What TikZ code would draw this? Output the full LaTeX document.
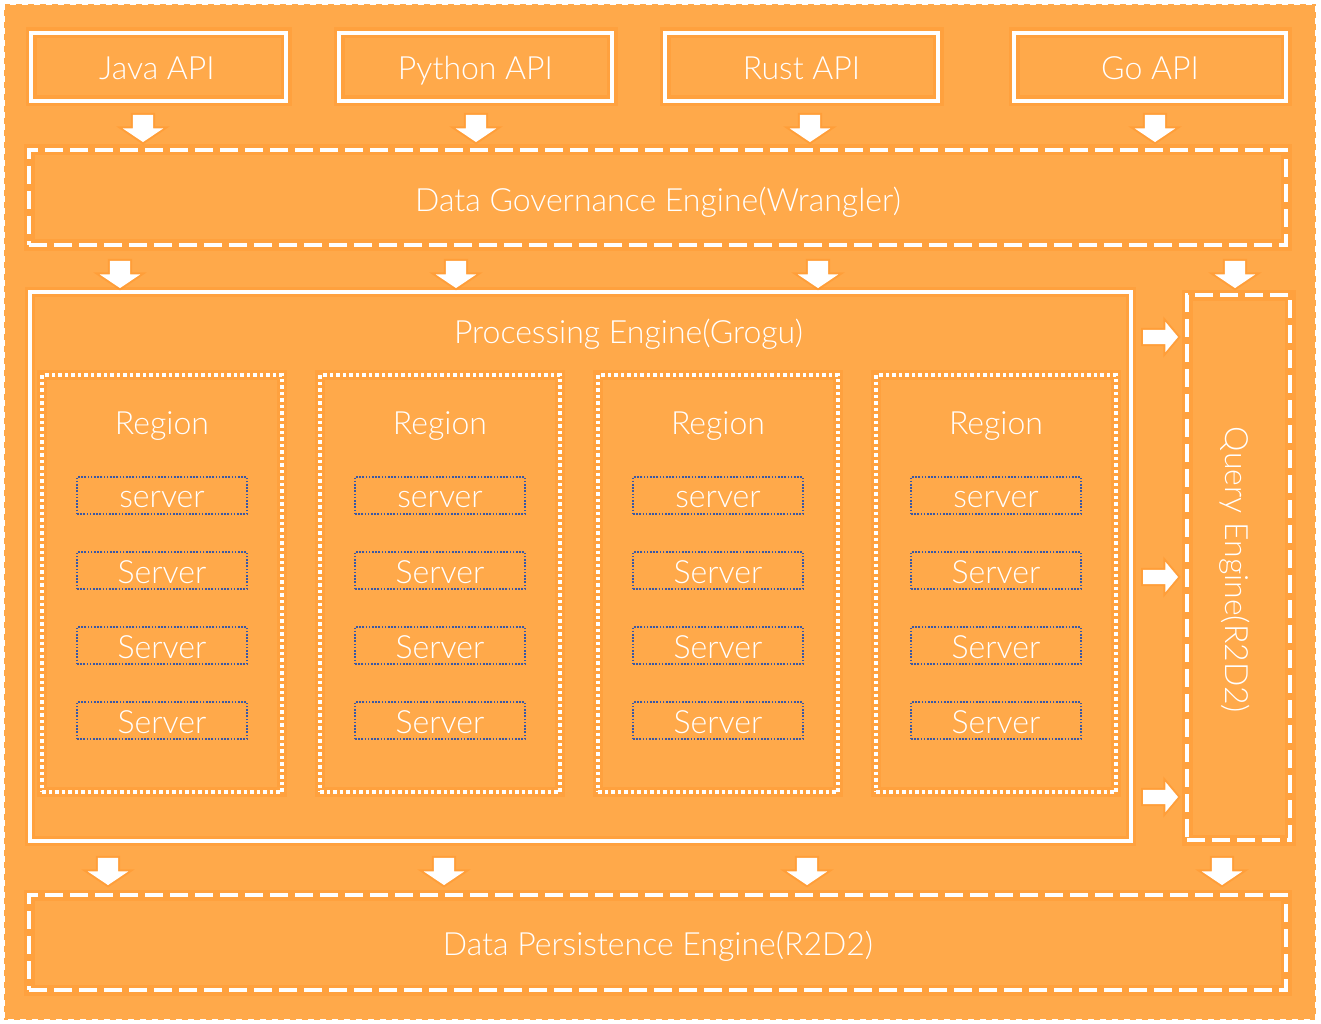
\documentclass[tikz,border=0pt]{standalone}
\usepackage{fontspec}
\setmainfont{Lato}[UprightFont=* Light]
\usetikzlibrary{shapes.arrows}
\definecolor{bgor}{RGB}{255,169,74}
\definecolor{glowc}{RGB}{255,135,20}
\definecolor{srvblue}{RGB}{58,88,165}
\tikzset{
  glow/.style={preaction={draw=glowc, line width=#1, opacity=0.22, solid}},
  lbl/.style={text=white, font=\fontsize{32}{36}\selectfont, inner sep=0pt, text height=23pt, text depth=0pt},
  apibox/.style={draw=white, line width=4.5pt, glow=11pt, minimum height=68pt},
  dashbox/.style={draw=white, line width=4.5pt, dash pattern=on 18pt off 7pt, glow=11pt},
  procbox/.style={draw=white, line width=4pt, glow=10pt},
  regionbox/.style={draw=white, line width=4pt, dash pattern=on 3.5pt off 3pt, glow=10pt, minimum width=240pt, minimum height=417pt},
  srvbox/.style={draw=srvblue, line width=1.4pt, dash pattern=on 1.6pt off 1.6pt, minimum width=170pt, minimum height=37pt, inner sep=0pt},
  darrow/.style={single arrow, fill=white, draw=none, shape border rotate=270, minimum height=27pt, inner sep=10pt, single arrow head extend=10pt, single arrow tip angle=112, preaction={draw=glowc, line width=4pt, opacity=0.3}},
  rarrow/.style={single arrow, fill=white, draw=none, minimum height=35pt, inner sep=7pt, single arrow head extend=8pt, single arrow tip angle=100, preaction={draw=glowc, line width=4pt, opacity=0.3}},
}
\begin{document}
\begin{tikzpicture}[x=1pt,y=-1pt]
\useasboundingbox (0,0) rectangle (1321,1024);
\fill[white] (0,0) rectangle (1321,1024);
\draw[fill=bgor, draw=white, line width=2pt, dash pattern=on 6pt off 6pt] (4,4) rectangle (1316,1020);

% API boxes
\node[apibox, minimum width=255pt] (java) at (158.5,67) {};
\node[apibox, minimum width=273pt] (python) at (475.5,67) {};
\node[apibox, minimum width=273pt] (rust) at (801.5,67) {};
\node[apibox, minimum width=272pt] (go) at (1150,67) {};
\node[lbl] (javat) at (157,68.5) {Java API};
\node[lbl] (pythont) at (475.5,68.5) {Python API};
\node[lbl] (rustt) at (801.5,68.5) {Rust API};
\node[lbl] (got) at (1150,68.5) {Go API};

% Governance
\node[dashbox, minimum width=1257pt, minimum height=95pt] (gov) at (657.5,197.5) {};
\node[lbl] (govt) at (658,200) {Data Governance Engine(Wrangler)};

% Processing
\node[procbox, minimum width=1101pt, minimum height=549pt] (proc) at (580.5,566.5) {};
\node[lbl] (proctitle) at (628.5,332) {Processing Engine(Grogu)};

% Regions and servers
\foreach \i/\x in {1/162,2/440,3/718,4/996}{
  \node[regionbox] (reg\i) at (\x,583.5) {};
  \node[lbl] (regl\i) at (\x,423) {Region};
  \node[srvbox] (s\i a) at (\x,495.5) {};
  \node[srvbox] (s\i b) at (\x,570.5) {};
  \node[srvbox] (s\i c) at (\x,645.5) {};
  \node[srvbox] (s\i d) at (\x,720.5) {};
  \node[lbl] (t\i a) at (\x,496) {server};
  \node[lbl] (t\i b) at (\x,572) {Server};
  \node[lbl] (t\i c) at (\x,647) {Server};
  \node[lbl] (t\i d) at (\x,722) {Server};
}

% Query engine
\node[dashbox, minimum width=103pt, minimum height=545pt] (query) at (1238.5,567.5) {};
\node[lbl, rotate=-90] (querytxt) at (1237,570) {Query Engine(R2D2)};

% Persistence
\node[dashbox, minimum width=1257pt, minimum height=95pt] (persist) at (657.5,942.5) {};
\node[lbl] (persistt) at (658,943.5) {Data Persistence Engine(R2D2)};

% arrows row 1
\node[darrow] (a1) at (143,125) {};
\node[darrow] (a2) at (476,125) {};
\node[darrow] (a3) at (810,125) {};
\node[darrow] (a4) at (1155,125) {};
% arrows row 2
\node[darrow] (b1) at (120,271) {};
\node[darrow] (b2) at (456,271) {};
\node[darrow] (b3) at (818,271) {};
\node[darrow] (b4) at (1235,271) {};
% arrows row 3
\node[darrow] (c1) at (108,868) {};
\node[darrow] (c2) at (444,868) {};
\node[darrow] (c3) at (807,868) {};
\node[darrow] (c4) at (1222,868) {};
% right arrows
\node[rarrow] (r1) at (1157.5,337) {};
\node[rarrow] (r2) at (1157.5,577) {};
\node[rarrow] (r3) at (1157.5,797) {};
\end{tikzpicture}
\end{document}
